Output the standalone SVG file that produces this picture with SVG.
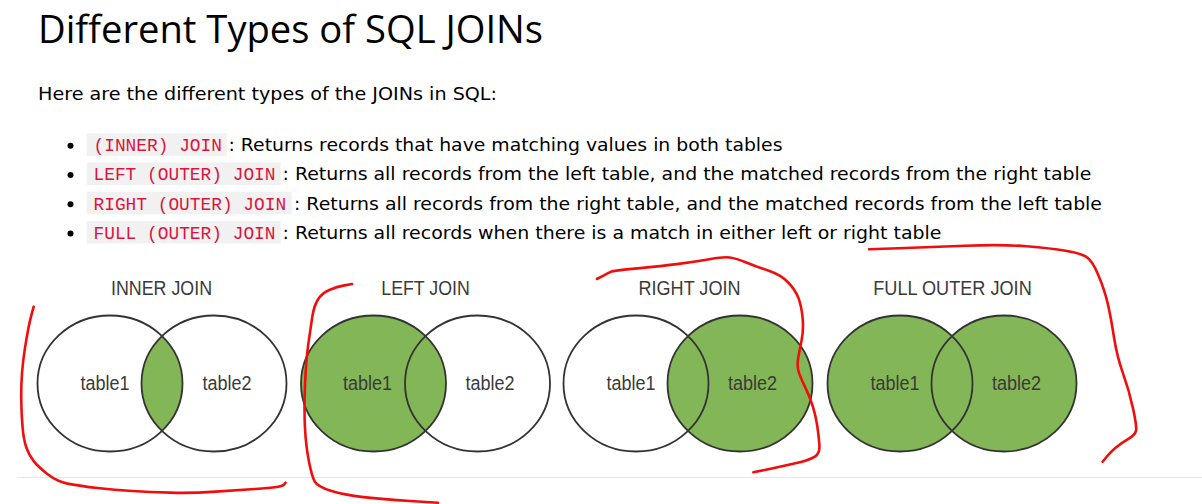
<svg xmlns="http://www.w3.org/2000/svg" width="1202" height="504" viewBox="0 0 1202 504">
<style>
.h1{font-family:"Open Sans","Noto Sans","Liberation Sans",sans-serif;font-size:38px;fill:#000}
.p{font-family:"DejaVu Sans","Liberation Sans",sans-serif;font-size:17.3px;fill:#000}
.code{font-family:"Liberation Mono","DejaVu Sans Mono",monospace;font-size:17.5px;fill:#dc143c}
.cbox{fill:#f1f1f1}
.ttl{font-family:"Liberation Sans",Arial,sans-serif;font-size:20px;fill:#3a3a3a;text-anchor:middle}
.lbl{font-family:"Liberation Sans",Arial,sans-serif;font-size:20px;fill:#3a3a3a;text-anchor:middle}
.g{fill:#83b656}
.w{fill:#fff}
.o{fill:none;stroke:#333;stroke-width:1.8}
.red{fill:none;stroke:#f20d0d;stroke-width:2.6;stroke-linecap:round;stroke-linejoin:round}
</style>
<defs>
<clipPath id="lensclip"><ellipse cx="214" cy="383.5" rx="72.5" ry="68"/></clipPath>
</defs>
<rect width="1202" height="504" fill="#fff"/>

<g id="header">
<text class="h1" x="38" y="43" textLength="505" lengthAdjust="spacingAndGlyphs">Different Types of SQL JOINs</text>
<text class="p" x="38" y="99.5" textLength="459" lengthAdjust="spacingAndGlyphs">Here are the different types of the JOINs in SQL:</text>
</g>

<g id="bullets">
<circle cx="70.5" cy="145.7" r="3"/>
<circle cx="70.5" cy="175" r="3"/>
<circle cx="70.5" cy="204.3" r="3"/>
<circle cx="70.5" cy="233.6" r="3"/>
<rect class="cbox" x="86.7" y="133.3" width="140" height="22.5"/>
<rect class="cbox" x="86.7" y="162.4" width="194" height="22.5"/>
<rect class="cbox" x="86.7" y="191.7" width="205" height="22.5"/>
<rect class="cbox" x="86.7" y="221" width="194" height="22.5"/>
<text class="code" x="93.5" y="151" textLength="128.5" lengthAdjust="spacingAndGlyphs">(INNER) JOIN</text>
<text class="code" x="93.5" y="180.3" textLength="182" lengthAdjust="spacingAndGlyphs">LEFT (OUTER) JOIN</text>
<text class="code" x="93.5" y="209.6" textLength="192.6" lengthAdjust="spacingAndGlyphs">RIGHT (OUTER) JOIN</text>
<text class="code" x="93.5" y="239" textLength="182" lengthAdjust="spacingAndGlyphs">FULL (OUTER) JOIN</text>
<text class="p" x="228.5" y="151" textLength="554" lengthAdjust="spacingAndGlyphs">: Returns records that have matching values in both tables</text>
<text class="p" x="282.5" y="180.3" textLength="809" lengthAdjust="spacingAndGlyphs">: Returns all records from the left table, and the matched records from the right table</text>
<text class="p" x="294" y="209.6" textLength="808" lengthAdjust="spacingAndGlyphs">: Returns all records from the right table, and the matched records from the left table</text>
<text class="p" x="282.5" y="239" textLength="659" lengthAdjust="spacingAndGlyphs">: Returns all records when there is a match in either left or right table</text>
</g>

<g id="inner-join">
<text class="ttl" x="161.5" y="295" textLength="101" lengthAdjust="spacingAndGlyphs">INNER JOIN</text>
<ellipse class="w" cx="110" cy="383.5" rx="72.5" ry="68"/>
<ellipse class="w" cx="214" cy="383.5" rx="72.5" ry="68"/>
<ellipse class="g" cx="110" cy="383.5" rx="72.5" ry="68" clip-path="url(#lensclip)"/>
<ellipse class="o" cx="110" cy="383.5" rx="72.5" ry="68"/>
<ellipse class="o" cx="214" cy="383.5" rx="72.5" ry="68"/>
<text class="lbl" x="105" y="390" textLength="49" lengthAdjust="spacingAndGlyphs">table1</text>
<text class="lbl" x="227" y="390" textLength="49" lengthAdjust="spacingAndGlyphs">table2</text>
</g>

<g id="left-join">
<text class="ttl" x="425.5" y="295" textLength="88.5" lengthAdjust="spacingAndGlyphs">LEFT JOIN</text>
<ellipse class="w" cx="477.5" cy="383.5" rx="72.5" ry="68"/>
<ellipse class="g" cx="373.5" cy="383.5" rx="72.5" ry="68"/>
<ellipse class="o" cx="373.5" cy="383.5" rx="72.5" ry="68"/>
<ellipse class="o" cx="477.5" cy="383.5" rx="72.5" ry="68"/>
<text class="lbl" x="367.5" y="390" textLength="49" lengthAdjust="spacingAndGlyphs">table1</text>
<text class="lbl" x="490" y="390" textLength="49" lengthAdjust="spacingAndGlyphs">table2</text>
</g>

<g id="right-join">
<text class="ttl" x="689.5" y="295" textLength="102" lengthAdjust="spacingAndGlyphs">RIGHT JOIN</text>
<ellipse class="w" cx="636" cy="383.5" rx="72.5" ry="68"/>
<ellipse class="g" cx="740" cy="383.5" rx="72.5" ry="68"/>
<ellipse class="o" cx="636" cy="383.5" rx="72.5" ry="68"/>
<ellipse class="o" cx="740" cy="383.5" rx="72.5" ry="68"/>
<text class="lbl" x="631" y="390" textLength="49" lengthAdjust="spacingAndGlyphs">table1</text>
<text class="lbl" x="752.5" y="390" textLength="49" lengthAdjust="spacingAndGlyphs">table2</text>
</g>

<g id="full-outer-join">
<text class="ttl" x="952.5" y="295" textLength="158.5" lengthAdjust="spacingAndGlyphs">FULL OUTER JOIN</text>
<ellipse class="g" cx="900" cy="383.5" rx="72.5" ry="68"/>
<ellipse class="g" cx="1004" cy="383.5" rx="72.5" ry="68"/>
<ellipse class="o" cx="900" cy="383.5" rx="72.5" ry="68"/>
<ellipse class="o" cx="1004" cy="383.5" rx="72.5" ry="68"/>
<text class="lbl" x="895" y="390" textLength="49" lengthAdjust="spacingAndGlyphs">table1</text>
<text class="lbl" x="1016.5" y="390" textLength="49" lengthAdjust="spacingAndGlyphs">table2</text>
</g>

<line x1="17" y1="477.5" x2="1202" y2="477.5" stroke="#e6e6e6" stroke-width="1"/>

<g id="annotations">
<path class="red" d="M33.7,306.7 L31.85,313.35 Q30,320 28.4,328.35 Q26.8,336.7 24.9,348.35 Q23,360 22,373.35 Q21,386.7 21.25,400.85 Q21.5,415 22.6,427.5 Q23.7,440 26.35,447.5 Q29,455 33.5,460.85 Q38,466.7 47.7,474.2 Q57.4,481.7 68.7,483.85 Q80,486 97.4,488 Q114.8,490 132.4,491 Q150,492 170.5,492.65 Q191,493.3 215.5,491.65 Q240,490 255,489 Q270,488 276.5,487 Q283,486 284.25,484.35 L285.5,482.7"/>
<path class="red" d="M352,284 L344.5,285.35 Q337,286.7 329.25,290 Q321.5,293.3 317.65,300 Q313.8,306.7 312.3,316.7 Q310.8,326.7 308.4,343.35 Q306,360 305,385 Q304,410 305,428.35 Q306,446.7 309,461.7 Q312,476.7 314.8,481.7 Q317.6,486.7 330.8,490.85 Q344,495 363.35,497.15 Q382.7,499.3 410.35,501 L438,502.7"/>
<path class="red" d="M596.9,279 L602.95,275.85 Q609,272.7 611,271.7 Q613,270.7 637.7,268.35 Q662.4,266 678.7,263.85 Q695,261.7 709.4,259.2 Q723.8,256.7 729.9,257.5 Q736,258.3 746.3,262.5 Q756.6,266.7 768.8,270.85 Q781,275 788.25,282.5 Q795.5,290 798.55,298.35 Q801.6,306.7 802.65,318.35 Q803.7,330 801.65,340 Q799.6,350 798.15,358.35 Q796.7,366.7 799.15,373.35 Q801.6,380 805.7,388.35 Q809.8,396.7 812.9,406.7 Q816,416.7 817.4,426.7 Q818.8,436.7 819.4,445 Q820,453.3 814.9,456.65 Q809.8,460 795.4,463.35 Q781,466.7 767.15,469.5 L753.3,472.3"/>
<path class="red" d="M869,249.3 L898.75,248.3 Q928.5,247.3 965.25,245.8 Q1002,244.3 1026.5,246.3 Q1051,248.3 1065.5,250.8 Q1080,253.3 1086,256.65 Q1092,260 1098.3,275 Q1104.6,290 1107.7,303.35 Q1110.8,316.7 1113.9,336.7 Q1117,356.7 1123,373.35 Q1129,390 1133,408.35 Q1137,426.7 1136,430.85 Q1135,435 1128,439.15 Q1121,443.3 1115.9,447.5 Q1110.8,451.7 1106.7,456.7 L1102.6,461.7"/>
</g>
</svg>
